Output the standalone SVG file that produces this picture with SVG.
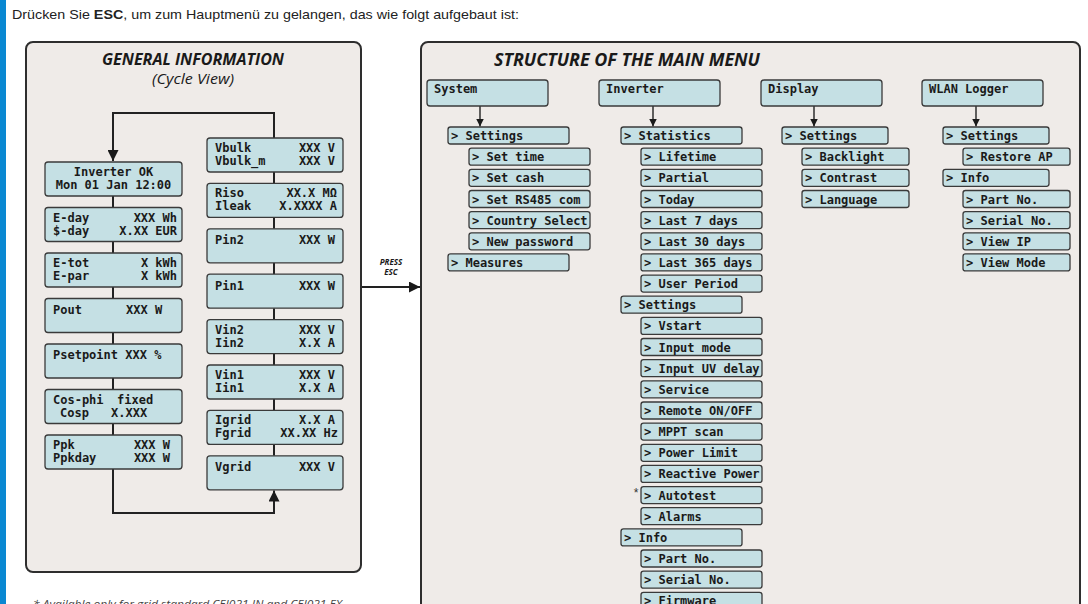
<svg xmlns="http://www.w3.org/2000/svg" width="1088" height="604" viewBox="0 0 1088 604">
<style>
.panel{fill:#efebe8;stroke:#2e2e2e;stroke-width:2}
.box{fill:#c5e0e4;stroke:#3a3a3a;stroke-width:1.3}
.lcd{font-family:"DejaVu Sans Mono","Liberation Mono",monospace;font-weight:bold;font-size:12px;fill:#1a1a1a}
.end{text-anchor:end}
.mid{text-anchor:middle}
.title{font-family:"Open Sans","Liberation Sans",sans-serif;font-weight:bold;font-style:italic;fill:#1a1a1a}
.con{fill:none;stroke:#222;stroke-width:2}
.con2{fill:none;stroke:#222;stroke-width:1.4}
</style>
<defs>
<marker id="ah" viewBox="0 0 10 10" refX="10" refY="5" markerUnits="userSpaceOnUse" markerWidth="13" markerHeight="11" orient="auto"><path d="M0,0 L10,5 L0,10 z" fill="#1a1a1a"/></marker>
<marker id="ahs" viewBox="0 0 10 10" refX="10" refY="5" markerUnits="userSpaceOnUse" markerWidth="8" markerHeight="8" orient="auto"><path d="M0,0 L10,5 L0,10 z" fill="#1a1a1a"/></marker>
</defs>
<rect x="0" y="0" width="1088" height="604" fill="#ffffff"/>
<rect x="0" y="0" width="6" height="604" fill="#0a88d2"/>
<text x="12" y="19" font-family="'Liberation Sans',Arial,sans-serif" font-size="13.5" fill="#222" textLength="507" lengthAdjust="spacingAndGlyphs">Drücken Sie <tspan font-weight="bold">ESC</tspan>, um zum Hauptmenü zu gelangen, das wie folgt aufgebaut ist:</text>

<g id="panel-general">
<rect class="panel" x="26" y="42" width="335" height="530" rx="7"/>
<text class="title mid" x="193" y="64.5" font-size="15.5" textLength="182" lengthAdjust="spacingAndGlyphs">GENERAL INFORMATION</text>
<text class="mid" x="193" y="84" font-family="'Open Sans','Liberation Sans',sans-serif" font-style="italic" font-size="14" fill="#1a1a1a" textLength="82" lengthAdjust="spacingAndGlyphs">(Cycle View)</text>
</g>

<g id="panel-menu">
<rect class="panel" x="421" y="42" width="659" height="600" rx="7"/>
<text class="title mid" x="627" y="66" font-size="17" textLength="266" lengthAdjust="spacingAndGlyphs">STRUCTURE OF THE MAIN MENU</text>
</g>

<g id="connectors">
<path class="con" d="M274,138 V113 H113 V161" marker-end="url(#ah)"/>
<path class="con" d="M113,196 V207.5 M113,241.5 V253 M113,287 V298.5 M113,332.5 V344 M113,378 V389.5 M113,423.5 V435"/>
<path class="con" d="M274,172 V183.4 M274,217.4 V228.8 M274,262.8 V274.2 M274,308.2 V319.6 M274,353.6 V365 M274,399 V410.4 M274,444.4 V455.8"/>
<path class="con" d="M113,469 V513 H274 V490.5" marker-end="url(#ah)"/>
<path class="con" d="M362,287 H420" marker-end="url(#ah)"/>
<path class="con2" d="M480,106 V126.5" marker-end="url(#ahs)"/>
<path class="con2" d="M653,106 V126.5" marker-end="url(#ahs)"/>
<path class="con2" d="M814,106 V126.5" marker-end="url(#ahs)"/>
<path class="con2" d="M976,106 V126.5" marker-end="url(#ahs)"/>
</g>

<text class="title mid" x="391" y="265" font-size="8">PRESS</text>
<text class="title mid" x="391" y="275" font-size="8">ESC</text>

<g id="n-inverter-ok"><rect class="box" x="45" y="162" width="137" height="34" rx="3"/><text class="lcd mid" x="113.5" y="176">Inverter OK</text><text class="lcd mid" x="113.5" y="189">Mon 01 Jan 12:00</text></g>
<g id="n-eday"><rect class="box" x="45" y="207.5" width="137" height="34" rx="3"/><text class="lcd" x="53" y="221.5">E-day</text><text class="lcd end" x="177" y="221.5">XXX Wh</text><text class="lcd" x="53" y="234.5">$-day</text><text class="lcd end" x="177" y="234.5">X.XX EUR</text></g>
<g id="n-etot"><rect class="box" x="45" y="253" width="137" height="34" rx="3"/><text class="lcd" x="53" y="267">E-tot</text><text class="lcd end" x="177" y="267">X kWh</text><text class="lcd" x="53" y="280">E-par</text><text class="lcd end" x="177" y="280">X kWh</text></g>
<g id="n-pout"><rect class="box" x="45" y="298.5" width="137" height="34" rx="3"/><text class="lcd" x="53" y="313.5">Pout</text><text class="lcd" x="126" y="313.5">XXX W</text></g>
<g id="n-psetpoint"><rect class="box" x="45" y="344" width="137" height="34" rx="3"/><text class="lcd" x="53" y="359">Psetpoint XXX %</text></g>
<g id="n-cosphi"><rect class="box" x="45" y="389.5" width="137" height="34" rx="3"/><text class="lcd" x="53" y="403.5">Cos-phi</text><text class="lcd" x="117" y="403.5">fixed</text><text class="lcd" x="60" y="416.5">Cosp</text><text class="lcd" x="111" y="416.5">X.XXX</text></g>
<g id="n-ppk"><rect class="box" x="45" y="435" width="137" height="34" rx="3"/><text class="lcd" x="53" y="449">Ppk</text><text class="lcd end" x="170" y="449">XXX W</text><text class="lcd" x="53" y="462">Ppkday</text><text class="lcd end" x="170" y="462">XXX W</text></g>

<g id="n-vbulk"><rect class="box" x="207" y="138" width="136" height="34" rx="3"/><text class="lcd" x="215" y="152">Vbulk</text><text class="lcd end" x="335" y="152">XXX V</text><text class="lcd" x="215" y="165">Vbulk_m</text><text class="lcd end" x="335" y="165">XXX V</text></g>
<g id="n-riso"><rect class="box" x="207" y="183.4" width="136" height="34" rx="3"/><text class="lcd" x="215" y="197.4">Riso</text><text class="lcd end" x="337" y="197.4">XX.X MΩ</text><text class="lcd" x="215" y="210.4">Ileak</text><text class="lcd end" x="337" y="210.4">X.XXXX A</text></g>
<g id="n-pin2"><rect class="box" x="207" y="228.8" width="136" height="34" rx="3"/><text class="lcd" x="215" y="244">Pin2</text><text class="lcd end" x="335" y="244">XXX W</text></g>
<g id="n-pin1"><rect class="box" x="207" y="274.2" width="136" height="34" rx="3"/><text class="lcd" x="215" y="289.5">Pin1</text><text class="lcd end" x="335" y="289.5">XXX W</text></g>
<g id="n-vin2"><rect class="box" x="207" y="319.6" width="136" height="34" rx="3"/><text class="lcd" x="215" y="333.6">Vin2</text><text class="lcd end" x="335" y="333.6">XXX V</text><text class="lcd" x="215" y="346.6">Iin2</text><text class="lcd end" x="335" y="346.6">X.X A</text></g>
<g id="n-vin1"><rect class="box" x="207" y="365" width="136" height="34" rx="3"/><text class="lcd" x="215" y="379">Vin1</text><text class="lcd end" x="335" y="379">XXX V</text><text class="lcd" x="215" y="392">Iin1</text><text class="lcd end" x="335" y="392">X.X A</text></g>
<g id="n-igrid"><rect class="box" x="207" y="410.4" width="136" height="34" rx="3"/><text class="lcd" x="215" y="424.4">Igrid</text><text class="lcd end" x="335" y="424.4">X.X A</text><text class="lcd" x="215" y="437.4">Fgrid</text><text class="lcd end" x="338" y="437.4">XX.XX Hz</text></g>
<g id="n-vgrid"><rect class="box" x="207" y="455.8" width="136" height="34" rx="3"/><text class="lcd" x="215" y="471">Vgrid</text><text class="lcd end" x="335" y="471">XXX V</text></g>

<g id="m-system"><rect class="box" x="427" y="80" width="121" height="26" rx="3"/><text class="lcd" x="434" y="93">System</text></g>
<g id="m-inverter"><rect class="box" x="599" y="80" width="121" height="26" rx="3"/><text class="lcd" x="606" y="93">Inverter</text></g>
<g id="m-display"><rect class="box" x="761" y="80" width="121" height="26" rx="3"/><text class="lcd" x="768" y="93">Display</text></g>
<g id="m-wlan"><rect class="box" x="922" y="80" width="121" height="26" rx="3"/><text class="lcd" x="929" y="93">WLAN Logger</text></g>

<g id="s-settings"><rect class="box" x="448" y="127" width="121" height="17" rx="2.5"/><text class="lcd" x="451" y="140">&gt; Settings</text></g>
<g id="s-settime"><rect class="box" x="469" y="148.2" width="121" height="17" rx="2.5"/><text class="lcd" x="472" y="161.2">&gt; Set time</text></g>
<g id="s-setcash"><rect class="box" x="469" y="169.3" width="121" height="17" rx="2.5"/><text class="lcd" x="472" y="182.3">&gt; Set cash</text></g>
<g id="s-rs485"><rect class="box" x="469" y="190.5" width="121" height="17" rx="2.5"/><text class="lcd" x="472" y="203.5">&gt; Set RS485 com</text></g>
<g id="s-country"><rect class="box" x="469" y="211.6" width="121" height="17" rx="2.5"/><text class="lcd" x="472" y="224.6">&gt; Country Select</text></g>
<g id="s-password"><rect class="box" x="469" y="232.8" width="121" height="17" rx="2.5"/><text class="lcd" x="472" y="245.8">&gt; New password</text></g>
<g id="s-measures"><rect class="box" x="448" y="253.9" width="121" height="17" rx="2.5"/><text class="lcd" x="451" y="266.9">&gt; Measures</text></g>

<g id="i-statistics"><rect class="box" x="621" y="127" width="121" height="17" rx="2.5"/><text class="lcd" x="624" y="140">&gt; Statistics</text></g>
<g id="i-lifetime"><rect class="box" x="641" y="148.2" width="121" height="17" rx="2.5"/><text class="lcd" x="644" y="161.2">&gt; Lifetime</text></g>
<g id="i-partial"><rect class="box" x="641" y="169.3" width="121" height="17" rx="2.5"/><text class="lcd" x="644" y="182.3">&gt; Partial</text></g>
<g id="i-today"><rect class="box" x="641" y="190.5" width="121" height="17" rx="2.5"/><text class="lcd" x="644" y="203.5">&gt; Today</text></g>
<g id="i-last7"><rect class="box" x="641" y="211.6" width="121" height="17" rx="2.5"/><text class="lcd" x="644" y="224.6">&gt; Last 7 days</text></g>
<g id="i-last30"><rect class="box" x="641" y="232.8" width="121" height="17" rx="2.5"/><text class="lcd" x="644" y="245.8">&gt; Last 30 days</text></g>
<g id="i-last365"><rect class="box" x="641" y="253.9" width="121" height="17" rx="2.5"/><text class="lcd" x="644" y="266.9">&gt; Last 365 days</text></g>
<g id="i-userperiod"><rect class="box" x="641" y="275.1" width="121" height="17" rx="2.5"/><text class="lcd" x="644" y="288.1">&gt; User Period</text></g>
<g id="i-settings"><rect class="box" x="621" y="296.2" width="121" height="17" rx="2.5"/><text class="lcd" x="624" y="309.2">&gt; Settings</text></g>
<g id="i-vstart"><rect class="box" x="641" y="317.4" width="121" height="17" rx="2.5"/><text class="lcd" x="644" y="330.4">&gt; Vstart</text></g>
<g id="i-inputmode"><rect class="box" x="641" y="338.5" width="121" height="17" rx="2.5"/><text class="lcd" x="644" y="351.5">&gt; Input mode</text></g>
<g id="i-uvdelay"><rect class="box" x="641" y="359.7" width="121" height="17" rx="2.5"/><text class="lcd" x="644" y="372.7">&gt; Input UV delay</text></g>
<g id="i-service"><rect class="box" x="641" y="380.8" width="121" height="17" rx="2.5"/><text class="lcd" x="644" y="393.8">&gt; Service</text></g>
<g id="i-remote"><rect class="box" x="641" y="402" width="121" height="17" rx="2.5"/><text class="lcd" x="644" y="415">&gt; Remote ON/OFF</text></g>
<g id="i-mppt"><rect class="box" x="641" y="423.1" width="121" height="17" rx="2.5"/><text class="lcd" x="644" y="436.1">&gt; MPPT scan</text></g>
<g id="i-powerlimit"><rect class="box" x="641" y="444.3" width="121" height="17" rx="2.5"/><text class="lcd" x="644" y="457.3">&gt; Power Limit</text></g>
<g id="i-reactive"><rect class="box" x="641" y="465.4" width="121" height="17" rx="2.5"/><text class="lcd" x="644" y="478.4">&gt; Reactive Power</text></g>
<g id="i-autotest"><rect class="box" x="641" y="486.6" width="121" height="17" rx="2.5"/><text class="lcd" x="644" y="499.6">&gt; Autotest</text><text x="636" y="497" text-anchor="middle" font-family="'Liberation Sans',sans-serif" font-size="12" fill="#333">*</text></g>
<g id="i-alarms"><rect class="box" x="641" y="507.7" width="121" height="17" rx="2.5"/><text class="lcd" x="644" y="520.7">&gt; Alarms</text></g>
<g id="i-info"><rect class="box" x="621" y="528.9" width="121" height="17" rx="2.5"/><text class="lcd" x="624" y="541.9">&gt; Info</text></g>
<g id="i-partno"><rect class="box" x="641" y="550" width="121" height="17" rx="2.5"/><text class="lcd" x="644" y="563">&gt; Part No.</text></g>
<g id="i-serial"><rect class="box" x="641" y="571.2" width="121" height="17" rx="2.5"/><text class="lcd" x="644" y="584.2">&gt; Serial No.</text></g>
<g id="i-firmware"><rect class="box" x="641" y="592.3" width="121" height="17" rx="2.5"/><text class="lcd" x="644" y="605.3">&gt; Firmware</text></g>

<g id="d-settings"><rect class="box" x="782" y="127" width="106" height="17" rx="2.5"/><text class="lcd" x="785" y="140">&gt; Settings</text></g>
<g id="d-backlight"><rect class="box" x="802" y="148.2" width="107" height="17" rx="2.5"/><text class="lcd" x="805" y="161.2">&gt; Backlight</text></g>
<g id="d-contrast"><rect class="box" x="802" y="169.3" width="107" height="17" rx="2.5"/><text class="lcd" x="805" y="182.3">&gt; Contrast</text></g>
<g id="d-language"><rect class="box" x="802" y="190.5" width="107" height="17" rx="2.5"/><text class="lcd" x="805" y="203.5">&gt; Language</text></g>

<g id="w-settings"><rect class="box" x="943" y="127" width="106" height="17" rx="2.5"/><text class="lcd" x="946" y="140">&gt; Settings</text></g>
<g id="w-restore"><rect class="box" x="963" y="148.2" width="107" height="17" rx="2.5"/><text class="lcd" x="966" y="161.2">&gt; Restore AP</text></g>
<g id="w-info"><rect class="box" x="943" y="169.3" width="106" height="17" rx="2.5"/><text class="lcd" x="946" y="182.3">&gt; Info</text></g>
<g id="w-partno"><rect class="box" x="963" y="190.5" width="107" height="17" rx="2.5"/><text class="lcd" x="966" y="203.5">&gt; Part No.</text></g>
<g id="w-serial"><rect class="box" x="963" y="211.6" width="107" height="17" rx="2.5"/><text class="lcd" x="966" y="224.6">&gt; Serial No.</text></g>
<g id="w-viewip"><rect class="box" x="963" y="232.8" width="107" height="17" rx="2.5"/><text class="lcd" x="966" y="245.8">&gt; View IP</text></g>
<g id="w-viewmode"><rect class="box" x="963" y="253.9" width="107" height="17" rx="2.5"/><text class="lcd" x="966" y="266.9">&gt; View Mode</text></g>

<text x="33" y="608" font-family="'Open Sans','Liberation Sans',sans-serif" font-style="italic" font-size="10.5" fill="#444" textLength="309" lengthAdjust="spacingAndGlyphs">* Available only for grid standard CEI021 IN and CEI021 EX</text>
</svg>
